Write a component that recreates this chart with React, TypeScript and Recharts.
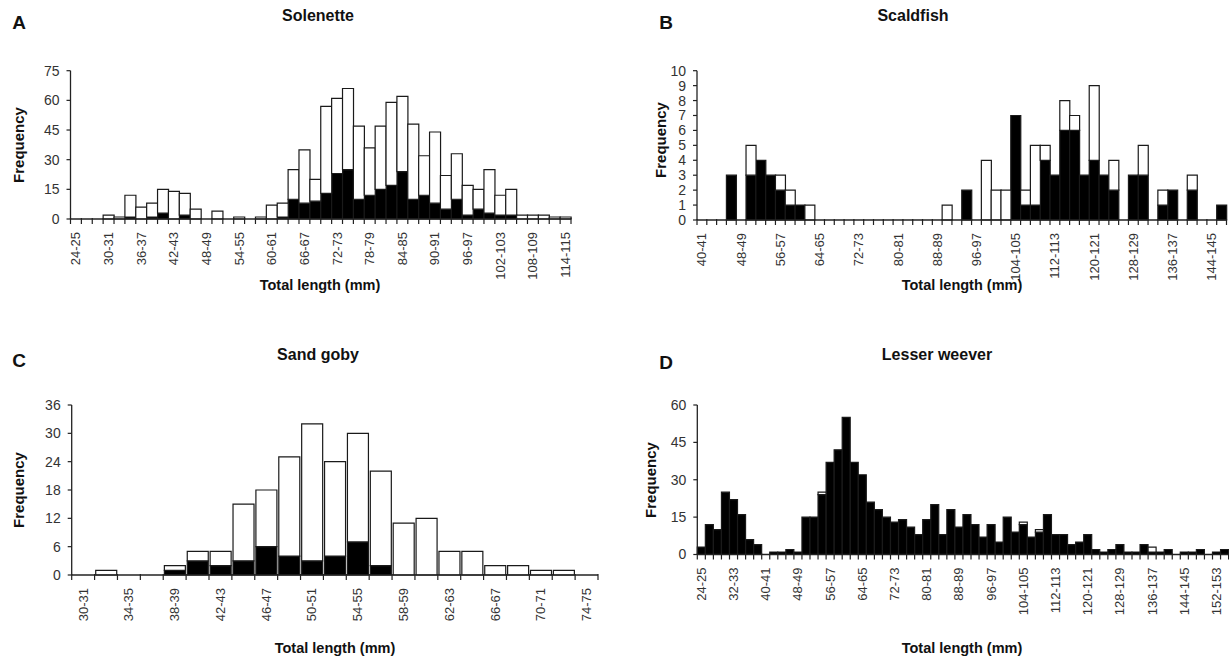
import React from 'react';
import { BarChart, Bar, XAxis, YAxis } from 'recharts';

// ---------- Panel A: Solenette ----------
const solenetteCats = [
  '24-25','26-27','28-29','30-31','32-33','34-35','36-37','38-39','40-41','42-43',
  '44-45','46-47','48-49','50-51','52-53','54-55','56-57','58-59','60-61','62-63',
  '64-65','66-67','68-69','70-71','72-73','74-75','76-77','78-79','80-81','82-83',
  '84-85','86-87','88-89','90-91','92-93','94-95','96-97','98-99','100-101','102-103',
  '104-105','106-107','108-109','110-111','112-113','114-115',
];
const solenetteTotal = [
  0, 0, 0, 2, 1, 12, 6, 8, 15, 14,
  13, 5, 0, 4, 0, 1, 0, 1, 7, 8,
  25, 35, 20, 57, 61, 66, 47, 36, 47, 59,
  62, 48, 32, 44, 22, 33, 17, 15, 25, 12,
  15, 2, 2, 2, 1, 1,
];
const solenetteBlack = [
  0, 0, 0, 0, 0, 1, 0, 1, 3, 0,
  2, 0, 0, 0, 0, 0, 0, 0, 0, 1,
  10, 8, 9, 13, 23, 25, 10, 12, 15, 17,
  24, 10, 12, 8, 5, 10, 2, 5, 3, 2,
  2, 0, 0, 0, 0, 0,
];
const solenetteTickLabels = [
  '24-25','30-31','36-37','42-43','48-49','54-55','60-61','66-67','72-73','78-79',
  '84-85','90-91','96-97','102-103','108-109','114-115',
];
const solenetteYTicks = [0, 15, 30, 45, 60, 75];

// ---------- Panel B: Scaldfish ----------
const scaldfishCats = [
  '40-41','42-43','44-45','46-47','48-49','50-51','52-53','54-55','56-57','58-59',
  '60-61','62-63','64-65','66-67','68-69','70-71','72-73','74-75','76-77','78-79',
  '80-81','82-83','84-85','86-87','88-89','90-91','92-93','94-95','96-97','98-99',
  '100-101','102-103','104-105','106-107','108-109','110-111','112-113','114-115','116-117','118-119',
  '120-121','122-123','124-125','126-127','128-129','130-131','132-133','134-135','136-137','138-139',
  '140-141','142-143','144-145','146-147',
];
const scaldfishTotal = [
  0, 0, 0, 3, 0, 5, 4, 3, 3, 2,
  1, 1, 0, 0, 0, 0, 0, 0, 0, 0,
  0, 0, 0, 0, 0, 1, 0, 2, 0, 4,
  2, 2, 7, 2, 5, 5, 3, 8, 7, 3,
  9, 3, 4, 0, 3, 5, 0, 2, 2, 0,
  3, 0, 0, 1,
];
const scaldfishBlack = [
  0, 0, 0, 3, 0, 3, 4, 3, 2, 1,
  1, 0, 0, 0, 0, 0, 0, 0, 0, 0,
  0, 0, 0, 0, 0, 0, 0, 2, 0, 0,
  0, 0, 7, 1, 1, 4, 3, 6, 6, 3,
  4, 3, 2, 0, 3, 3, 0, 1, 2, 0,
  2, 0, 0, 1,
];
const scaldfishTickLabels = [
  '40-41','48-49','56-57','64-65','72-73','80-81','88-89','96-97','104-105','112-113',
  '120-121','128-129','136-137','144-145',
];
const scaldfishYTicks = [0, 1, 2, 3, 4, 5, 6, 7, 8, 9, 10];

// ---------- Panel C: Sand goby ----------
const gobyCats = [
  '30-31','32-33','34-35','36-37','38-39','40-41','42-43','44-45','46-47','48-49',
  '50-51','52-53','54-55','56-57','58-59','60-61','62-63','64-65','66-67','68-69',
  '70-71','72-73','74-75',
];
const gobyTotal = [0, 1, 0, 0, 2, 5, 5, 15, 18, 25, 32, 24, 30, 22, 11, 12, 5, 5, 2, 2, 1, 1, 0];
const gobyBlack = [0, 0, 0, 0, 1, 3, 2, 3, 6, 4, 3, 4, 7, 2, 0, 0, 0, 0, 0, 0, 0, 0, 0];
const gobyTickLabels = [
  '30-31','34-35','38-39','42-43','46-47','50-51','54-55','58-59','62-63','66-67','70-71','74-75',
];
const gobyYTicks = [0, 6, 12, 18, 24, 30, 36];

// ---------- Panel D: Lesser weever ----------
const weeverCats = [
  '24-25','26-27','28-29','30-31','32-33','34-35','36-37','38-39','40-41','42-43',
  '44-45','46-47','48-49','50-51','52-53','54-55','56-57','58-59','60-61','62-63',
  '64-65','66-67','68-69','70-71','72-73','74-75','76-77','78-79','80-81','82-83',
  '84-85','86-87','88-89','90-91','92-93','94-95','96-97','98-99','100-101','102-103',
  '104-105','106-107','108-109','110-111','112-113','114-115','116-117','118-119','120-121','122-123',
  '124-125','126-127','128-129','130-131','132-133','134-135','136-137','138-139','140-141','142-143',
  '144-145','146-147','148-149','150-151','152-153','154-155',
];
const weeverTotal = [
  3, 12, 10, 25, 22, 16, 6, 4, 0, 1,
  1, 2, 1, 15, 15, 25, 37, 42, 55, 37,
  32, 21, 18, 15, 13, 14, 11, 8, 14, 20,
  8, 18, 11, 16, 12, 7, 12, 5, 15, 9,
  13, 7, 10, 16, 8, 8, 4, 5, 8, 2,
  1, 2, 4, 1, 1, 4, 3, 1, 2, 0,
  1, 1, 2, 0, 1, 2,
];
const weeverBlack = [
  3, 12, 10, 25, 22, 16, 6, 4, 0, 1,
  1, 2, 1, 15, 15, 24, 37, 42, 55, 37,
  32, 21, 18, 15, 13, 14, 11, 8, 14, 20,
  8, 18, 11, 16, 12, 7, 12, 5, 15, 9,
  12, 7, 9, 16, 8, 8, 4, 5, 8, 2,
  1, 2, 4, 1, 1, 4, 1, 1, 2, 0,
  1, 1, 2, 0, 1, 2,
];
const weeverTickLabels = [
  '24-25','32-33','40-41','48-49','56-57','64-65','72-73','80-81','88-89','96-97',
  '104-105','112-113','120-121','128-129','136-137','144-145','152-153',
];
const weeverYTicks = [0, 15, 30, 45, 60];

// ---------- shared ----------
const FONT = '"Liberation Sans", Arial, Helvetica, sans-serif';
const AXIS = '#222';
const TEXT = '#333';
const Y_AXIS_W = 40;
const X_AXIS_H = 70;

type Box = { left: number; top: number; width: number; height: number };
type Plot = { left: number; top: number; right: number; bottom: number };

function buildRows(cats: string[], total: number[], black: number[]) {
  return cats.map((c, i) => ({ cat: c, black: black[i], white: total[i] - black[i] }));
}

function makeXTick(labels: string[], band: number, n: number) {
  return (props: any) => {
    const { x, y, payload } = props;
    const idx = payload.index;
    const half = band / 2;
    const show = labels.includes(payload.value);
    const ly = y + 13;
    return (
      <g>
        <line x1={x - half} x2={x - half} y1={y - 1} y2={y + 5} stroke={AXIS} strokeWidth={1.2} />
        {idx === n - 1 && (
          <line x1={x + half} x2={x + half} y1={y - 1} y2={y + 5} stroke={AXIS} strokeWidth={1.2} />
        )}
        {show && (
          <text
            x={x}
            y={ly}
            transform={`rotate(-90 ${x} ${ly})`}
            textAnchor="end"
            dominantBaseline="central"
            fontSize={13}
            fill={TEXT}
            fontFamily={FONT}
          >
            {payload.value}
          </text>
        )}
      </g>
    );
  };
}

function Panel(props: {
  box: Box; plot: Plot; cats: string[]; total: number[]; black: number[];
  tickLabels: string[]; yTicks: number[]; gap: number | string;
}) {
  const { box, plot, cats, total, black, tickLabels, yTicks, gap } = props;
  const rows = buildRows(cats, total, black);
  const n = cats.length;
  const band = (plot.right - plot.left) / n;
  const margin = {
    top: plot.top - box.top,
    left: plot.left - box.left - Y_AXIS_W,
    right: box.left + box.width - plot.right,
    bottom: box.top + box.height - plot.bottom - X_AXIS_H,
  };
  const yMax = yTicks[yTicks.length - 1];
  return (
    <div style={{ position: 'absolute', left: box.left, top: box.top }}>
      <BarChart width={box.width} height={box.height} data={rows} margin={margin} barCategoryGap={gap}>
        <XAxis
          dataKey="cat"
          interval={0}
          tickLine={false}
          tickSize={0}
          tickMargin={0}
          height={X_AXIS_H}
          axisLine={{ stroke: AXIS, strokeWidth: 1.3 }}
          tick={makeXTick(tickLabels, band, n)}
        />
        <YAxis
          width={Y_AXIS_W}
          domain={[0, yMax]}
          ticks={yTicks}
          interval={0}
          allowDecimals={false}
          tickSize={4}
          tickMargin={7}
          axisLine={{ stroke: AXIS, strokeWidth: 1.3 }}
          tickLine={{ stroke: AXIS, strokeWidth: 1.2 }}
          tick={{ fontSize: 14, fill: TEXT, fontFamily: FONT }}
        />
        <Bar dataKey="black" stackId="s" fill="#000" stroke="#1a1a1a" strokeWidth={1.2} isAnimationActive={false} />
        <Bar dataKey="white" stackId="s" fill="#fff" stroke="#1a1a1a" strokeWidth={1.2} isAnimationActive={false} />
      </BarChart>
    </div>
  );
}

function Txt(props: { x: number; y: number; size: number; bold?: boolean; rotate?: boolean; children: React.ReactNode }) {
  const { x, y, size, bold, rotate, children } = props;
  return (
    <div
      style={{
        position: 'absolute',
        left: x,
        top: y,
        transform: `translate(-50%, -50%)${rotate ? ' rotate(-90deg)' : ''}`,
        whiteSpace: 'nowrap',
        fontFamily: FONT,
        fontSize: size,
        fontWeight: bold ? 700 : 400,
        color: '#111',
        lineHeight: 1,
      }}
    >
      {children}
    </div>
  );
}

export default function App() {
  return (
    <div style={{ position: 'absolute', left: 0, top: 0, width: 1229, height: 659, background: '#fff', overflow: 'hidden' }}>
      <Panel
        box={{ left: 0, top: 0, width: 600, height: 300 }}
        plot={{ left: 70.5, top: 70.7, right: 571, bottom: 219 }}
        cats={solenetteCats} total={solenetteTotal} black={solenetteBlack}
        tickLabels={solenetteTickLabels} yTicks={solenetteYTicks} gap={0}
      />
      <Panel
        box={{ left: 630, top: 0, width: 599, height: 300 }}
        plot={{ left: 697, top: 70.7, right: 1226.5, bottom: 220 }}
        cats={scaldfishCats} total={scaldfishTotal} black={scaldfishBlack}
        tickLabels={scaldfishTickLabels} yTicks={scaldfishYTicks} gap={0}
      />
      <Panel
        box={{ left: 0, top: 330, width: 620, height: 329 }}
        plot={{ left: 71.7, top: 405, right: 598, bottom: 575 }}
        cats={gobyCats} total={gobyTotal} black={gobyBlack}
        tickLabels={gobyTickLabels} yTicks={gobyYTicks} gap={'5%'}
      />
      <Panel
        box={{ left: 630, top: 330, width: 599, height: 329 }}
        plot={{ left: 697.3, top: 405, right: 1228.6, bottom: 554.5 }}
        cats={weeverCats} total={weeverTotal} black={weeverBlack}
        tickLabels={weeverTickLabels} yTicks={weeverYTicks} gap={0}
      />

      <Txt x={19} y={22} size={19} bold>A</Txt>
      <Txt x={318} y={16} size={16} bold>Solenette</Txt>
      <Txt x={18} y={145} size={15} bold rotate>Frequency</Txt>
      <Txt x={320} y={285} size={14.5} bold>Total length (mm)</Txt>

      <Txt x={666} y={22} size={19} bold>B</Txt>
      <Txt x={913} y={16} size={16} bold>Scaldfish</Txt>
      <Txt x={660} y={140} size={15} bold rotate>Frequency</Txt>
      <Txt x={962} y={285} size={14.5} bold>Total length (mm)</Txt>

      <Txt x={19} y={360} size={19} bold>C</Txt>
      <Txt x={318} y={355} size={16} bold>Sand goby</Txt>
      <Txt x={18} y={490} size={15} bold rotate>Frequency</Txt>
      <Txt x={335} y={648} size={14.5} bold>Total length (mm)</Txt>

      <Txt x={666} y={362} size={19} bold>D</Txt>
      <Txt x={937} y={355} size={16} bold>Lesser weever</Txt>
      <Txt x={650} y={480} size={15} bold rotate>Frequency</Txt>
      <Txt x={962} y={648} size={14.5} bold>Total length (mm)</Txt>
    </div>
  );
}
